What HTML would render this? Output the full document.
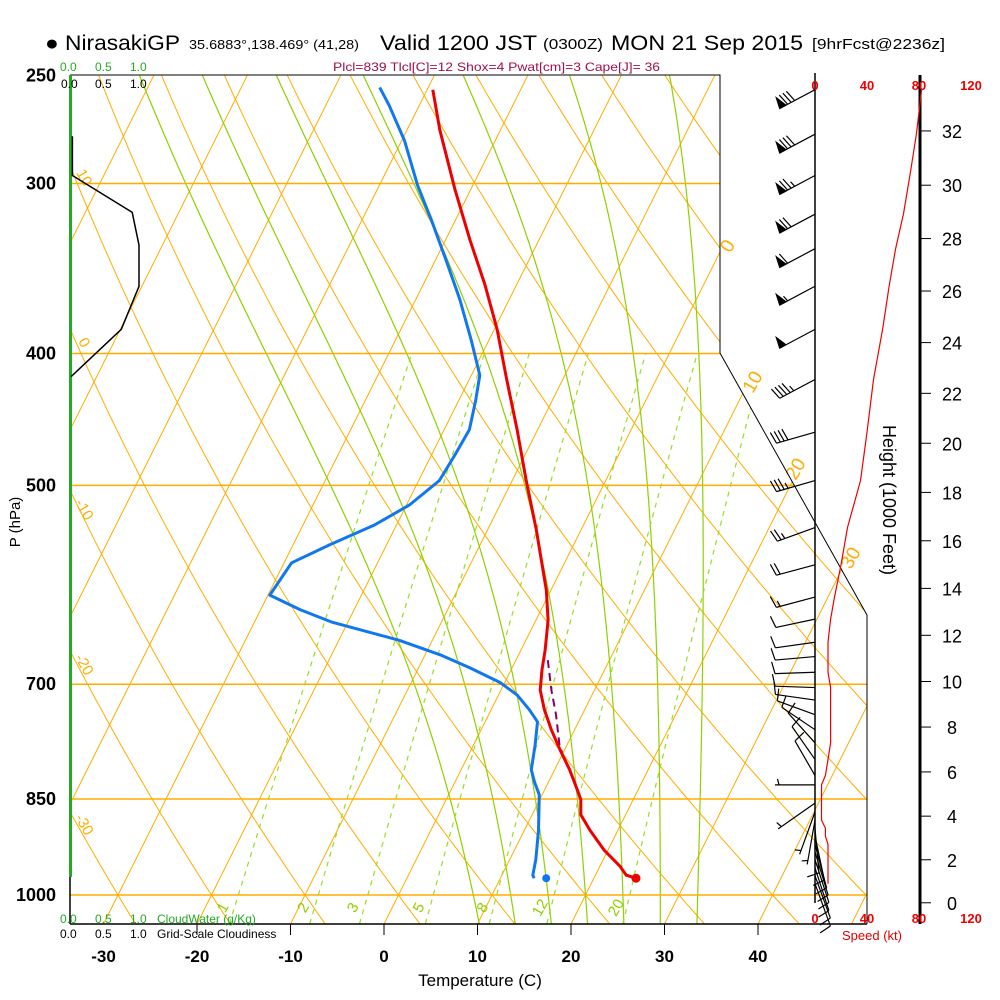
<!DOCTYPE html>
<html><head><meta charset="utf-8"><style>
html,body{margin:0;padding:0;background:#fff;}
svg{display:block;font-family:"Liberation Sans",sans-serif;}
</style></head><body>
<svg id="chart" width="1000" height="1000" viewBox="0 0 1000 1000" xmlns="http://www.w3.org/2000/svg">
<rect x="0" y="0" width="1000" height="1000" fill="#fff"/>
<defs><clipPath id="plotclip"><polygon points="70,75 720,75 720,353 867,615 867,924 70,924"/></clipPath></defs>
<g id="bg" clip-path="url(#plotclip)"></g>
<g id="fg"></g>
<text x="45" y="50" font-size="21" textLength="135" lengthAdjust="spacingAndGlyphs">● NirasakiGP</text>
<text x="189" y="49" font-size="13" textLength="170" lengthAdjust="spacingAndGlyphs">35.6883°,138.469° (41,28)</text>
<text x="380" y="50" font-size="21" textLength="157" lengthAdjust="spacingAndGlyphs">Valid 1200 JST</text>
<text x="543" y="49" font-size="15" textLength="60" lengthAdjust="spacingAndGlyphs">(0300Z)</text>
<text x="611" y="50" font-size="21" textLength="192" lengthAdjust="spacingAndGlyphs">MON 21 Sep 2015</text>
<text x="812" y="49" font-size="15" textLength="133" lengthAdjust="spacingAndGlyphs">[9hrFcst@2236z]</text>
<text x="333" y="71" font-size="12" fill="#a0104a" textLength="327" lengthAdjust="spacingAndGlyphs">Plcl=839 Tlcl[C]=12 Shox=4 Pwat[cm]=3 Cape[J]= 36</text>
<text x="60" y="71" font-size="12" fill="#22aa22">0.0</text>
<text x="95" y="71" font-size="12" fill="#22aa22">0.5</text>
<text x="130" y="71" font-size="12" fill="#22aa22">1.0</text>
<text x="61" y="88" font-size="12">0.0</text>
<text x="95" y="88" font-size="12">0.5</text>
<text x="130" y="88" font-size="12">1.0</text>
<text x="60" y="923" font-size="12" fill="#22aa22">0.0 <tspan x="95">0.5</tspan><tspan x="130">1.0</tspan><tspan x="157">CloudWater (g/Kg)</tspan></text>
<text x="60" y="938" font-size="12">0.0 <tspan x="95">0.5</tspan><tspan x="130">1.0</tspan><tspan x="157">Grid-Scale Cloudiness</tspan></text>
<text x="480" y="986" font-size="17" text-anchor="middle">Temperature (C)</text>
<text transform="translate(20,522) rotate(-90)" font-size="15" text-anchor="middle">P (hPa)</text>
<text transform="translate(883,500) rotate(90)" font-size="18" text-anchor="middle">Height (1000 Feet)</text>
<text x="872" y="940" font-size="13" fill="#e00000" text-anchor="middle">Speed (kt)</text>
</svg>
<script>
const tempP=[256,274,303,330,356,384,418,455,496,539,597,628,661,683,707,731,756,782,809,837,851,873,896,927,952,967,972];
const tempT=[-39.4,-36.5,-31.7,-27.4,-23.4,-19.7,-16.0,-12.2,-8.5,-4.8,-0.5,1.3,2.6,3.3,4.2,5.7,7.5,9.5,11.6,13.5,14.4,15.2,17.0,19.6,22.1,23.3,24.5];
const dewP=[255,263,279,301,319,342,365,391,415,433,455,475,496,517,535,553,570,602,617,630,650,666,681,698,713,731,746,776,809,826,844,896,942,967,972];
const dewT=[-45.2,-43.2,-39.7,-35.9,-32.6,-28.8,-25.3,-21.9,-19.1,-18.2,-17.3,-17.5,-17.8,-19.7,-22.4,-26.1,-29.2,-29.8,-25.8,-21.8,-13.5,-8.4,-4.5,-0.5,2.0,4.1,5.6,6.6,7.5,8.5,9.7,11.5,12.8,13.3,13.6];
const parcelP=[672,707,737,776,786];
const parcelT=[3.4,5.4,7.2,9.2,9.9];
const surfaceP=972, surfaceT=24.5, surfaceTd=14.9;
const windP=[256,276,296,316,335,357,384,418,457,496,537,572,604,627,652,668,686,704,719,737,756,773,795,817,830,856,869,881,893,905,918,930,942,955,968,981];
const windDir=[242,242,242,242,242,242,242,242,254,254,250,255,255,258,262,265,268,272,278,290,304,318,325,330,270,235,200,190,175,168,165,163,162,162,160,160];
const windSpd=[82,78,73,68,62,57,52,45,40,35,25,20,15,12,10,10,10,12,12,12,12,12,10,8,5,5,5,5,8,8,10,10,10,10,10,10];
const cloudP=[277,296,315,333,357,384,416];
const cloudFrac=[0.02,0.02,0.9,1.0,1.0,0.74,0.0];
const isoTemps=[-110,-100,-90,-80,-70,-60,-50,-40,-30,-20,-10,0,10,20,30,40,50];
const dryThetas=[-50,-40,-30,-20,-10,0,10,20,30,40,50,60,70,80,90,100,110,120,130,140];
const moistThetaW=[8,12,16,20,24,28,32];
const mixRatios=[1,2,3,5,8,12,20];
const mixLabels=["1","2","3","5","8","12","20"];
const pressureLevels=[300,400,500,700,850,1000];
const pressureLabels=["250","300","400","500","700","850","1000"];
const pressureLabelP=[250,300,400,500,700,850,1000];
const tempTicks=[-30,-20,-10,0,10,20,30,40];
const heightTicks=[0,2,4,6,8,10,12,14,16,18,20,22,24,26,28,30,32];
const speedTicks=[0,40,80,120];

const NS="http://www.w3.org/2000/svg";
const svg=document.getElementById('chart');
const bg=document.getElementById('bg');
const fg=document.getElementById('fg');
function Y(p){return 895-591*Math.log(1000/p);}
function X(T,p){return 384+9.35*T+0.5*(924-Y(p));}
function SX(s){return 815+s*1.3;}
function mk(tag,attrs,parent){const e=document.createElementNS(NS,tag);for(const k in attrs)e.setAttribute(k,attrs[k]);(parent||fg).appendChild(e);return e;}
function pts(arr){return arr.map(a=>a[0].toFixed(1)+','+a[1].toFixed(1)).join(' ');}
const ORANGE="#ffad00";

isoTemps.forEach(t=>{
 const e=mk('line',{x1:X(t,1050),y1:Y(1050),x2:X(t,250),y2:Y(250),stroke:ORANGE,'stroke-width':1},bg);
 
 
});
dryThetas.forEach(th=>{
 const a=[];for(let p=1050;p>=250;p-=10){const T=(th+273.15)*Math.pow(p/1000,0.2857)-273.15;a.push([X(T,p),Y(p)]);}
 const e=mk('polyline',{points:pts(a),fill:'none',stroke:ORANGE,'stroke-width':1},bg);
 
 
});
function es(Tc){return 6.112*Math.exp(17.67*Tc/(Tc+243.5));}
function dTdp(T,p){const Tc=T-273.15;const e=es(Tc);const ws=0.622*e/(p-e);const Lv=2.5e6,Rd=287,cp=1005;
 return (Rd*T+Lv*ws)/(p*(cp+Lv*Lv*ws*0.622/(Rd*T*T)));}
moistThetaW.forEach(tw=>{
 const up=[];let T=tw+273.15;
 for(let p=1000;p>=250;p-=2){up.push([X(T-273.15,p),Y(p)]);T-=2*dTdp(T,p);}
 const dn=[];T=tw+273.15;
 for(let p=1000;p<=1050;p+=2){dn.unshift([X(T-273.15,p),Y(p)]);T+=2*dTdp(T,p);}
 const e=mk('polyline',{points:pts(dn.concat(up)),fill:'none',stroke:'#8ed000','stroke-width':1.2},bg);
 
 
});
function tdFromW(w,p){const e=(w/1000)*p/(0.622+w/1000);const l=Math.log(e/6.112);return 243.5*l/(17.67-l);}
mixRatios.forEach((w,i)=>{
 const a=[];for(let p=1050;p>=400;p-=10)a.push([X(tdFromW(w,p),p),Y(p)]);
 const e=mk('polyline',{points:pts(a),fill:'none',stroke:'#99dd22','stroke-width':1.2,'stroke-dasharray':'5,5'},bg);
 
 
 const lx=X(tdFromW(w,1040),1040)-4;
 const t=mk('text',{transform:'translate('+lx.toFixed(1)+',910) rotate(-60)','font-size':15,fill:'#8ed000','text-anchor':'middle'});
 t.textContent=mixLabels[i];
 
 
});
pressureLevels.forEach(p=>{
 const y=Y(p);let xr=720;if(y>353)xr=Math.min(867,720+(y-353)*147/262);
 const e=mk('line',{x1:70,y1:y,x2:xr,y2:y,stroke:ORANGE,'stroke-width':1.5},bg);
 
 
});
[["10",180],["0",345],["-10",512],["-20",667],["-30",827]].forEach(d=>{
 const t=mk('text',{transform:'translate(80,'+d[1]+') rotate(60)','font-size':15,fill:ORANGE,'text-anchor':'middle'});
 t.textContent=d[0];
 
 
});
[["0",733,249],["10",758,385],["20",801,472],["30",856,561]].forEach(d=>{
 const t=mk('text',{transform:'translate('+d[1]+','+d[2]+') rotate(-60)','font-size':19,fill:ORANGE,'text-anchor':'middle'});
 t.textContent=d[0];
 
 
});
let b=mk('polyline',{points:'70,75 720,75 720,353 867,615 867,924',fill:'none',stroke:'#000','stroke-width':1});


b=mk('line',{x1:70,y1:924,x2:867,y2:924,stroke:'#000','stroke-width':1.5});


b=mk('line',{x1:70,y1:877,x2:70,y2:924,stroke:'#000','stroke-width':1.5});


b=mk('line',{x1:70.5,y1:75,x2:70.5,y2:877,stroke:'#22aa22','stroke-width':3});


b=mk('polyline',{points:pts(cloudP.map((p,i)=>[71+cloudFrac[i]*68,Y(p)])),fill:'none',stroke:'#000','stroke-width':1.5});


pressureLabels.forEach((s,i)=>{
 const t=mk('text',{x:56,y:Y(pressureLabelP[i])+6,'font-size':18,'font-weight':'bold','text-anchor':'end'});
 t.textContent=s;
 
 
});
tempTicks.forEach(tv=>{
 const x=384+9.35*tv;
 if(tv>-30&&tv<=40){const l=mk('line',{x1:x,y1:924,x2:x,y2:935,stroke:'#000','stroke-width':1});
 
 }
 const t=mk('text',{x:x,y:962,'font-size':17,'font-weight':'bold','text-anchor':'middle'});
 t.textContent=tv;
 
 
});
b=mk('polyline',{points:pts(dewP.map((p,i)=>[X(dewT[i],p),Y(p)])),fill:'none',stroke:'#1177ee','stroke-width':3,'stroke-linejoin':'round'});


b=mk('polyline',{points:pts(parcelP.map((p,i)=>[X(parcelT[i],p),Y(p)])),fill:'none',stroke:'#880066','stroke-width':2,'stroke-dasharray':'8,5'});


b=mk('polyline',{points:pts(tempP.map((p,i)=>[X(tempT[i],p),Y(p)])),fill:'none',stroke:'#ee0000','stroke-width':3,'stroke-linejoin':'round'});


b=mk('circle',{cx:X(surfaceT,surfaceP),cy:Y(surfaceP),r:4.5,fill:'#ee0000'});


b=mk('circle',{cx:X(surfaceTd,surfaceP),cy:Y(surfaceP),r:4,fill:'#1177ee'});


b=mk('line',{x1:815,y1:73,x2:815,y2:903,stroke:'#000','stroke-width':1.5});


b=mk('line',{x1:920,y1:75,x2:920,y2:924,stroke:'#000','stroke-width':3});


function hP(kft){const h=kft*304.8;return 1013.25*Math.pow(1-2.25577e-5*h,5.25588);}
heightTicks.forEach(h=>{
 const y=Y(hP(h));
 const l=mk('line',{x1:920,y1:y,x2:931,y2:y,stroke:'#000','stroke-width':1});
 
 
 const t=mk('text',{x:952,y:y+7,'font-size':18,'text-anchor':'middle'});
 t.textContent=h;
 
 
});
speedTicks.forEach(s=>{
 [90,923].forEach(yy=>{
 const t=mk('text',{x:SX(s),y:yy,'font-size':13,'font-weight':'bold',fill:'#ee0000','text-anchor':'middle'});
 t.textContent=s;
 
 
 });
});
b=mk('polyline',{points:pts(windP.map((p,i)=>[SX(windSpd[i]),Y(p)])),fill:'none',stroke:'#ee0000','stroke-width':1.2});


windP.forEach((p,i)=>{
 const d=windDir[i]*Math.PI/180,s=Math.round(windSpd[i]/5)*5;
 const ux=Math.sin(d),uy=-Math.cos(d),vx=-uy,vy=ux;
 const bx=815,by=Y(p),L=(p>840?45:40),tx=bx+L*ux,ty=by+L*uy;
 const g=mk('g',{stroke:'#000','stroke-width':1.2,fill:'#000'});
 
 
 mk('line',{x1:bx,y1:by,x2:tx,y2:ty},g);
 let pos=0,rem=s;
 while(rem>=50){const ax=tx-pos*ux,ay=ty-pos*uy;
  mk('polygon',{points:[ax,ay,ax-7*ux,ay-7*uy,ax+11*vx-2*ux,ay+11*vy-2*uy].map(n=>n.toFixed(1)).join(',')},g);pos+=9;rem-=50;}
 while(rem>=10){const ax=tx-pos*ux,ay=ty-pos*uy;
  mk('line',{x1:ax,y1:ay,x2:ax+12*vx+3*ux,y2:ay+12*vy+3*uy},g);pos+=4;rem-=10;}
 if(rem>=5){if(pos===0)pos=4;const ax=tx-pos*ux,ay=ty-pos*uy;
  mk('line',{x1:ax,y1:ay,x2:ax+6*vx+1.5*ux,y2:ay+6*vy+1.5*uy},g);}
});
</script>
</body></html>
